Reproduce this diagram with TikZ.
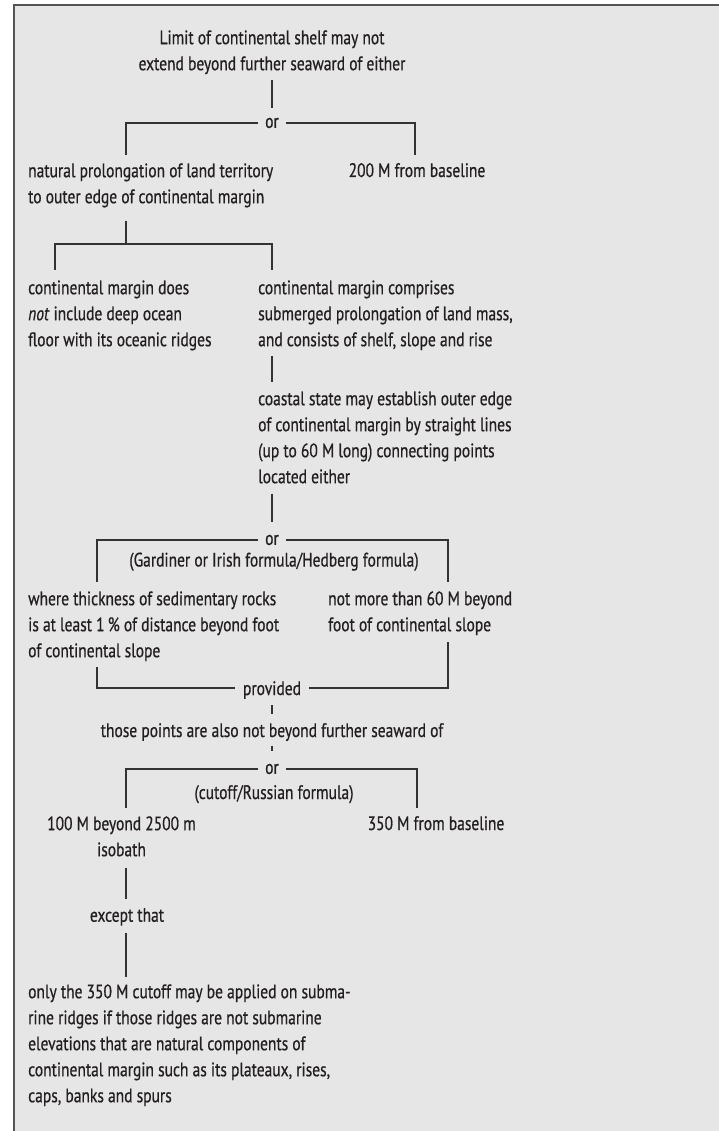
\documentclass[tikz,border=0pt]{standalone}
\usepackage{fontspec}
\setmainfont{PT Sans}[FakeStretch=0.795, FakeBold=0.6]
\usetikzlibrary{calc}
\definecolor{bg}{HTML}{E6E6E6}
\definecolor{frame}{HTML}{555555}
\definecolor{ln}{HTML}{333333}
\definecolor{txt}{HTML}{231F20}
\begin{document}
\begin{tikzpicture}[x=1pt,y=-1pt,
  font=\fontsize{19.5}{26}\selectfont,
  every node/.style={inner sep=0pt, text=txt},
  conn/.style={draw=ln, line width=1.3pt},
  ornode/.style={inner xsep=7pt},
  blockl/.style={anchor=north west, align=left},
  blockc/.style={anchor=north, align=center}]
\useasboundingbox (0,0) rectangle (718,1131);
\fill[white] (0,0) rectangle (718,1131);
\draw[fill=bg, draw=frame, line width=2.2pt] (14,5) rectangle (740,1160);

% nodes
\node[blockc] (T) at (272,25.8) {\strut Limit of continental shelf may not\\extend beyond further seaward of either};
\node[ornode] (OR1) at (272,123) {or};
\node[blockl] (N1) at (28,158.8) {\strut natural prolongation of land territory\\to outer edge of continental margin};
\node[anchor=base] (N2) at (417,177) {200 M from baseline};
\node[blockl] (N3) at (28,275.8) {\strut continental margin does\\\emph{not} include deep ocean\\floor with its oceanic ridges};
\node[blockl] (N4) at (258,275.8) {\strut continental margin comprises\\submerged prolongation of land mass,\\and consists of shelf, slope and rise};
\node[blockl] (N5) at (258,386.8) {\strut coastal state may establish outer edge\\of continental margin by straight lines\\(up to 60 M long) connecting points\\located either};
\node[ornode] (OR2) at (272,540) {or};
\node[anchor=base] (G) at (274,566.5) {(Gardiner or Irish formula/Hedberg formula)};
\node[blockl] (N6) at (28,586.8) {\strut where thickness of sedimentary rocks\\is at least 1\,\% of distance beyond foot\\of continental slope};
\node[blockl] (N7) at (328,586.8) {\strut not more than 60 M beyond\\foot of continental slope};
\node[anchor=base, inner xsep=8pt] (PROV) at (272,695) {provided};
\node[anchor=base] (TH) at (272,737) {those points are also not beyond further seaward of};
\node[ornode] (OR3) at (272,769) {or};
\node[anchor=base] (R) at (274,799) {(cutoff/Russian formula)};
\node[blockc] (N8) at (121.5,811.8) {\strut 100 M beyond 2500 m\\isobath};
\node[anchor=base] (N9) at (436,830) {350 M from baseline};
\node[anchor=base] (EX) at (127,921.7) {except that};
\node[blockl] (N10) at (28,979.8) {\strut only the 350 M cutoff may be applied on subma-\\rine ridges if those ridges are not submarine\\elevations that are natural components of\\continental margin such as its plateaux, rises,\\caps, banks and spurs};

% junction coordinates
\coordinate (b1) at (126,155);
\coordinate (b2) at (415,155);
\coordinate (j2) at (126,244);
\coordinate (b3) at (55,270);
\coordinate (b4) at (272,270);
\coordinate (b5) at (97,582);
\coordinate (b6) at (448,582);
\coordinate (p1) at (97,667);
\coordinate (p2) at (448,642);
\coordinate (b7) at (126,808);
\coordinate (b8) at (417,808);

% connectors
\draw[conn, shorten <=6pt, shorten >=10pt] (T.south) -- (OR1.north);
\draw[conn] (OR1.west) -| (b1);
\draw[conn] (OR1.east) -| (b2);
\draw[conn, shorten <=13pt] (N1.south -| j2) -- (j2);
\draw[conn] (b3) -- (b3 |- j2) -- (b4 |- j2) -- (b4);
\draw[conn, shorten <=5.3pt, shorten >=4.8pt] (N4.south -| b4) -- (N5.north -| b4);
\draw[conn, shorten <=10pt, shorten >=12.4pt] (N5.south -| b4) -- (OR2.north);
\draw[conn] (OR2.west) -| (b5);
\draw[conn] (OR2.east) -| (b6);
\draw[conn] (p1) |- ([yshift=2pt]PROV.west);
\draw[conn] (p2) |- ([yshift=2pt]PROV.east);
\draw[conn, shorten <=6.3pt, shorten >=8.7pt] (PROV.south) -- (TH.north);
\draw[conn, shorten <=4.3pt, shorten >=12.4pt] (TH.south) -- (OR3.north);
\draw[conn] (OR3.west) -| (b7);
\draw[conn] (OR3.east) -| (b8);
\draw[conn, shorten <=11pt, shorten >=8.4pt] (N8.south -| b7) -- (EX.north -| b7);
\draw[conn, shorten <=7.6pt, shorten >=2.8pt] (EX.south -| b7) -- (N10.north -| b7);
\end{tikzpicture}
\end{document}
